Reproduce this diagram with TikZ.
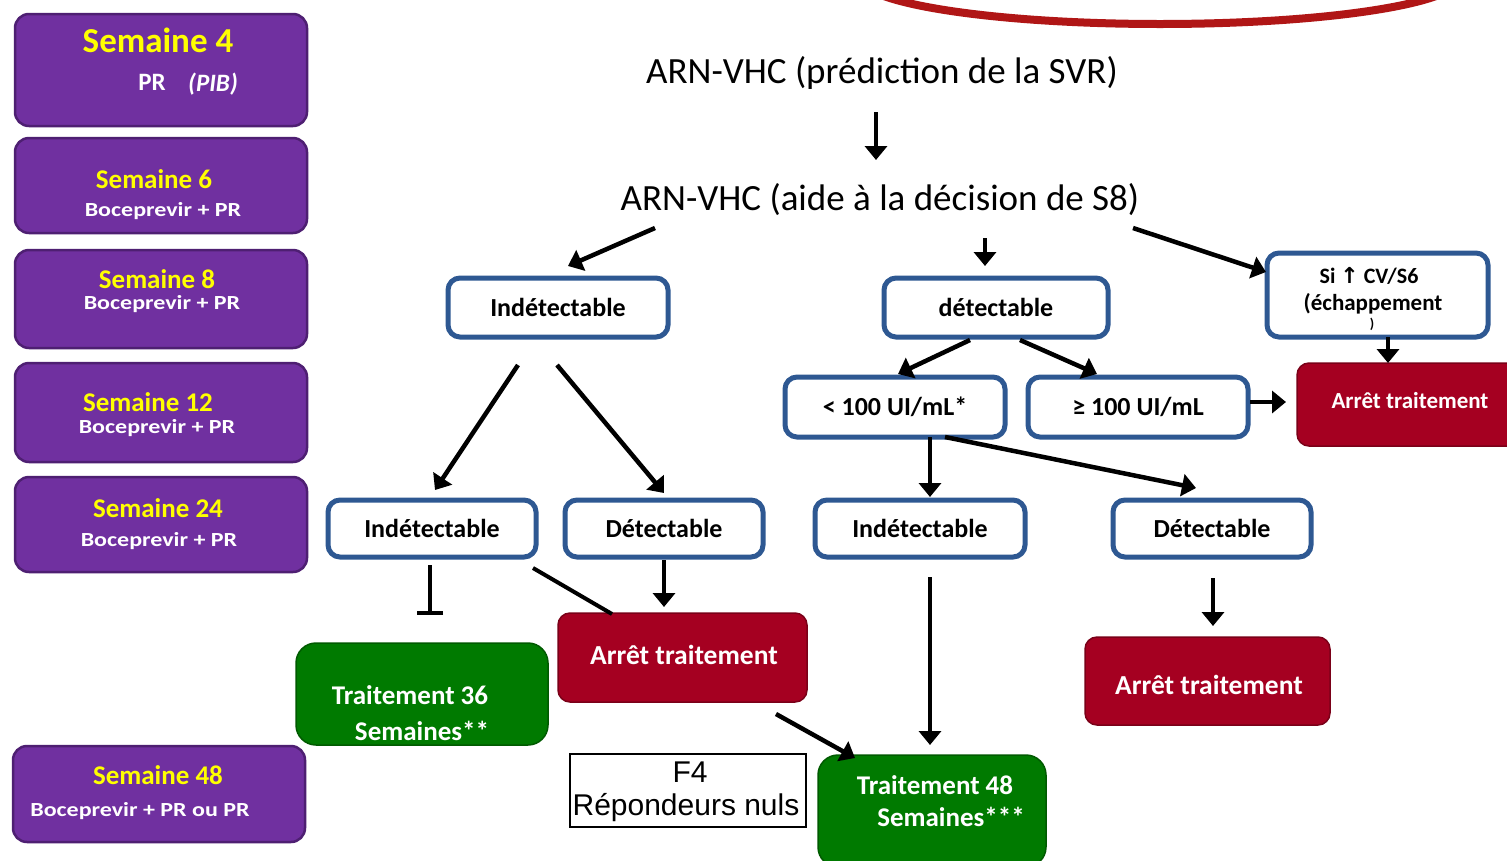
\documentclass[tikz,border=0pt]{standalone}
\usepackage{fontspec}
\setmainfont{Carlito}
\newfontfamily\djv{DejaVu Sans}
\newfontfamily\arialf{Liberation Sans}
\usetikzlibrary{arrows.meta,calc}
\definecolor{purp}{HTML}{7030A0}
\definecolor{purpd}{HTML}{4E1F72}
\definecolor{ylw}{HTML}{FFFF00}
\definecolor{bblue}{HTML}{2E5892}
\definecolor{dred}{HTML}{A50021}
\definecolor{dredd}{HTML}{7A0018}
\definecolor{grn}{HTML}{007A00}
\definecolor{grnd}{HTML}{005A00}
\definecolor{arcred}{HTML}{B01616}
\newcommand\fsz[1]{\fontsize{#1}{#1}\selectfont}
\newcommand\wide[1]{\scalebox{1.2}[1]{#1}}
\begin{document}
\begin{tikzpicture}[x=1pt,y=-1pt,
  pbox/.style={draw=purpd, line width=2.5pt, fill=purp, rounded corners=14pt, minimum width=292pt, inner sep=0pt},
  wbox/.style={draw=bblue, line width=5pt, fill=white, rounded corners=12pt, inner sep=0pt},
  rbox/.style={draw=dredd, line width=1.5pt, fill=dred, rounded corners=12pt, inner sep=0pt},
  gbox/.style={draw=grnd, line width=1.5pt, fill=grn, rounded corners=20pt, inner sep=0pt},
  ytext/.style={text=ylw, inner sep=0pt, font=\bfseries\fsz{27}},
  wtext/.style={text=white, inner sep=0pt, font=\bfseries\fsz{20}},
  btext/.style={text=black, inner sep=0pt, font=\bfseries\fsz{26}},
  arr/.style={line width=4.5pt, -{Triangle[length=14pt,width=22pt]}},
  plain/.style={line width=4pt}
]
\useasboundingbox (0,0) rectangle (1507,860);
\clip (0,0) rectangle (1507,860);
\fill[white] (0,0) rectangle (1507,860);

% red arc at top
\draw[arcred, line width=8pt] (1160,-22) ellipse [x radius=300, y radius=46];

% left column
\node[pbox, minimum height=112pt] (s4) at (161,70) {};
\node[ytext, font=\bfseries\fsz{35}] (s4a) at (158,40) {Semaine 4};
\node[wtext, font=\bfseries\fsz{25}] (s4b) at (152,82) {PR};
\node[wtext, font=\bfseries\itshape\fsz{25}] (s4c) at (213,84) {(PIB)};

\node[pbox, minimum height=95pt] (s6) at (161,185.5) {};
\node[ytext] (s6a) at (154,179) {Semaine 6};
\node[wtext] (s6b) at (163,211) {\wide{Boceprevir + PR}};

\node[pbox, minimum height=98pt] (s8) at (161,299) {};
\node[ytext] (s8a) at (157,279) {Semaine 8};
\node[wtext] (s8b) at (162,304) {\wide{Boceprevir + PR}};

\node[pbox, minimum height=99pt] (s12) at (161,412.5) {};
\node[ytext] (s12a) at (148,402) {Semaine 12};
\node[wtext] (s12b) at (157,428) {\wide{Boceprevir + PR}};

\node[pbox, minimum height=95pt] (s24) at (161,524.5) {};
\node[ytext] (s24a) at (158,508) {Semaine 24};
\node[wtext] (s24b) at (159,541) {\wide{Boceprevir + PR}};

\node[pbox, minimum height=96pt] (s48) at (159,794) {};
\node[ytext] (s48a) at (158,775) {Semaine 48};
\node[wtext] (s48b) at (140,811) {\wide{Boceprevir + PR ou PR}};

% titles
\node[inner sep=0pt, font=\fsz{37}] (t1) at (882,73) {ARN-VHC (prédiction de la SVR)};
\node[inner sep=0pt, font=\fsz{37}] (t2) at (880,200) {ARN-VHC (aide à la décision de S8)};

% white boxes
\node[wbox, minimum width=220pt, minimum height=59pt, btext] (ind1) at (558,307.5) {Indétectable};
\node[wbox, minimum width=224pt, minimum height=59pt, btext] (det1) at (996,307.5) {détectable};
\node[wbox, minimum width=221pt, minimum height=84pt] (si) at (1377.5,295) {};
\node[btext, font=\bfseries\fsz{22}] (sia) at (1369,276) {Si {\djv\bfseries ↑} CV/S6};
\node[btext, font=\bfseries\fsz{23}] (sib) at (1373,304) {(échappement};
\node[btext, font=\bfseries\fsz{14}] (sic) at (1372,324) {)};
\node[wbox, minimum width=220pt, minimum height=60pt, btext] (lt) at (895,407) {< 100 UI/mL*};
\node[wbox, minimum width=220pt, minimum height=60pt, btext] (ge) at (1138,407) {≥ 100 UI/mL};
\node[wbox, minimum width=208pt, minimum height=57pt, btext] (ind2) at (432,528.5) {Indétectable};
\node[wbox, minimum width=198pt, minimum height=57pt, btext] (det2) at (664,528.5) {Détectable};
\node[wbox, minimum width=210pt, minimum height=57pt, btext] (ind3) at (920,528.5) {Indétectable};
\node[wbox, minimum width=198pt, minimum height=57pt, btext] (det3) at (1212,528.5) {Détectable};

% red boxes
\node[rbox, minimum width=226pt, minimum height=83pt] (ar1) at (1410,404.5) {};
\node[wtext, font=\bfseries\fsz{23}] (ar1t) at (1410,401) {Arrêt traitement};
\node[rbox, minimum width=249pt, minimum height=89pt] (ar2) at (682.5,657.5) {};
\node[wtext, font=\bfseries\fsz{27.5}] (ar2t) at (684,655) {Arrêt traitement};
\node[rbox, minimum width=245pt, minimum height=88pt] (ar3) at (1207.5,681) {};
\node[wtext, font=\bfseries\fsz{27.5}] (ar3t) at (1209,685) {Arrêt traitement};

% green boxes
\node[gbox, minimum width=252pt, minimum height=102pt] (g36) at (422,694) {};
\node[wtext, font=\bfseries\fsz{27}] (g36a) at (410,695) {Traitement 36};
\node[wtext, font=\bfseries\fsz{27}] (g36b) at (422,731) {Semaines**};
\node[gbox, minimum width=228pt, minimum height=112pt] (g48) at (932,811) {};
\node[wtext, font=\bfseries\fsz{27}] (g48a) at (935,785) {Traitement 48};
\node[wtext, font=\bfseries\fsz{27}] (g48b) at (951,817) {Semaines***};

% F4 box
\node[draw=black, line width=1.5pt, fill=white, minimum width=236pt, minimum height=73pt, inner sep=0pt] (f4) at (688,790.5) {};
\node[inner sep=0pt, font=\arialf\fsz{30}] (f4a) at (690,772) {F4};
\node[inner sep=0pt, font=\arialf\fsz{30}] (f4b) at (686,808) {Répondeurs nuls};

% connectors
\draw[arr] ($(t1.center)+(-6,39)$) -- ($(t2.center)+(-4,-40)$);
\draw[arr] ($(t2.center)+(-225,28)$) -- ($(ind1.center)+(10,-41.5)$);
\draw[arr] ($(t2.center)+(105,38)$) -- ($(det1.center)+(-11,-41.5)$);
\draw[arr] ($(t2.center)+(253,28)$) -- ($(si.center)+(-111.5,-23)$);
\draw[arr] ($(det1.center)+(-26,32.5)$) -- ($(lt.center)+(3,-33)$);
\draw[arr] ($(det1.center)+(24,32.5)$) -- ($(ge.center)+(-41,-33)$);
\draw[arr] ($(ge.center)+(112,-5)$) -- ($(ar1.center)+(-124,-2.5)$);
\draw[arr] ($(si.center)+(10.5,42)$) -- ($(ar1.center)+(-22,-41.5)$);
\draw[arr] ($(ind1.center)+(-40,57.5)$) -- ($(ind2.center)+(3,-38.5)$);
\draw[arr] ($(ind1.center)+(-1,57.5)$) -- ($(det2.center)+(0,-35.5)$);
\draw[arr] ($(lt.center)+(35,30)$) -- ($(ind3.center)+(10,-31.5)$);
\draw[arr] ($(lt.center)+(50,30)$) -- ($(det3.center)+(-16,-40.5)$);
\coordinate (tb) at (430,615);
\draw[line width=4.5pt, -{Bar[width=26pt,line width=4.5pt]}] ($(ind2.center)+(-2,36.5)$) -- (tb);
\draw[plain] ($(ind2.center)+(101,39.5)$) -- ($(ar2.center)+(-70.5,-43.5)$);
\draw[arr] ($(det2.center)+(0,31.5)$) -- ($(ar2.center)+(-18.5,-50.5)$);
\draw[arr] ($(ar2.center)+(93.5,56.5)$) -- ($(g48.center)+(-77,-53)$);
\draw[arr] ($(ind3.center)+(10,48.5)$) -- ($(g48.center)+(-2,-66)$);
\draw[arr] ($(det3.center)+(1,49.5)$) -- ($(ar3.center)+(5.5,-55)$);
\end{tikzpicture}
\end{document}
